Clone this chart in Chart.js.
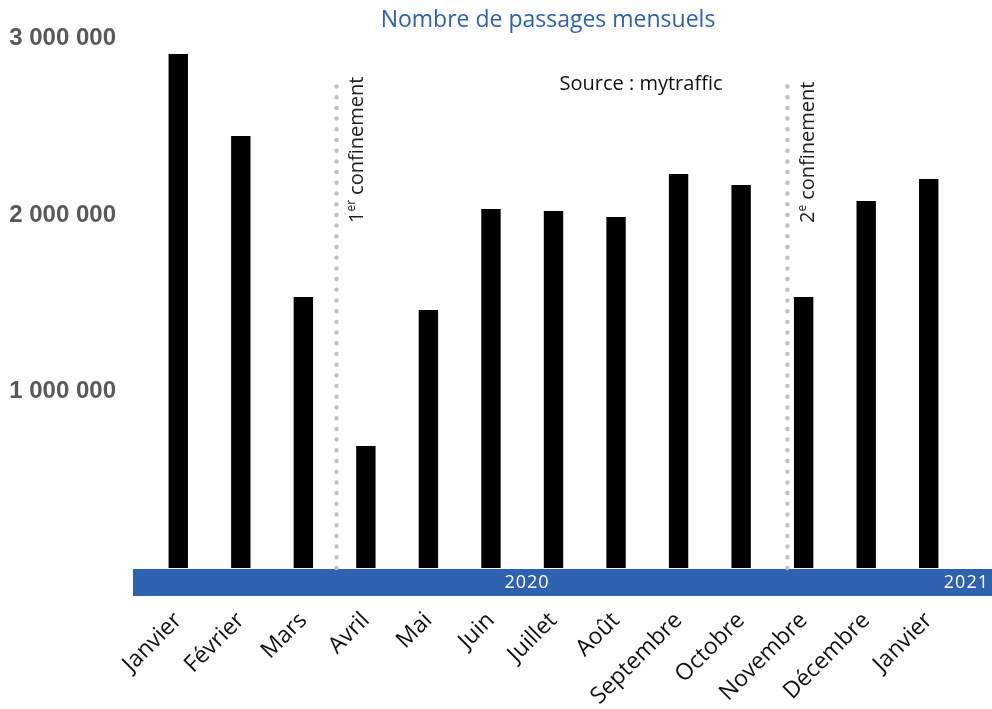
<!DOCTYPE html>
<html>
<head>
<meta charset="utf-8">
<script src="https://cdn.jsdelivr.net/npm/chart.js@4"></script>
<style>
  html, body { margin: 0; padding: 0; background: #fff; }
  #wrap { width: 992px; height: 709px; position: relative; }
</style>
</head>
<body>
<div id="wrap"><canvas id="passages"></canvas></div>
<script>
const mois = ['Janvier', 'Février', 'Mars', 'Avril', 'Mai', 'Juin', 'Juillet', 'Août',
  'Septembre', 'Octobre', 'Novembre', 'Décembre', 'Janvier'];
const passages = [2912000, 2448000, 1535000, 691000, 1462000, 2034000, 2023000,
  1989000, 2232000, 2170000, 1535000, 2079000, 2204000];
const yTicks = [1000000, 2000000, 3000000];
const annees = ['2020', '2021'];

const BLEU = '#2e62b0';

// bande bleue des années, pointillés des confinements, titre et source
const decor = {
  id: 'decor',
  afterDraw(chart) {
    const { ctx, chartArea, scales } = chart;
    const x = scales.x;
    ctx.save();

    // titre
    ctx.fillStyle = BLEU;
    ctx.font = '23px "Open Sans"';
    ctx.textAlign = 'center';
    ctx.textBaseline = 'middle';
    ctx.fillText('Nombre de passages mensuels', 548, 20);

    // source
    ctx.fillStyle = '#111';
    ctx.font = '20px "Open Sans"';
    ctx.fillText('Source : mytraffic', 641, 84);

    // bande des années
    const top = chartArea.bottom + 1;
    ctx.fillStyle = BLEU;
    ctx.fillRect(133, top, 992 - 133, 27);
    ctx.fillStyle = '#fff';
    ctx.font = '18px "Open Sans"';
    ctx.letterSpacing = '1px';
    ctx.textAlign = 'center';
    ctx.fillText(annees[0], 527, top + 14);
    ctx.textAlign = 'right';
    ctx.fillText(annees[1], 989, top + 14);
    ctx.letterSpacing = '0px';

    // confinements
    const confs = [{ pos: 2.53, n: '1', sup: 'er' }, { pos: 9.74, n: '2', sup: 'e' }];
    confs.forEach(c => {
      const px = x.getPixelForValue(c.pos);
      ctx.strokeStyle = '#c4c0c4';
      ctx.lineWidth = 4.5;
      ctx.lineCap = 'round';
      ctx.setLineDash([0, 10.7]);
      ctx.beginPath();
      ctx.moveTo(px, chartArea.bottom);
      ctx.lineTo(px, 76);
      ctx.stroke();
      ctx.setLineDash([]);

      ctx.save();
      ctx.translate(px + 27, 223);
      ctx.rotate(-Math.PI / 2);
      ctx.fillStyle = '#222';
      ctx.textAlign = 'left';
      ctx.textBaseline = 'alphabetic';
      ctx.font = '20px "Open Sans"';
      let w = ctx.measureText(c.n).width;
      ctx.fillText(c.n, 0, 0);
      ctx.font = '12px "Open Sans"';
      ctx.fillText(c.sup, w, -8);
      w += ctx.measureText(c.sup).width + 5;
      ctx.font = '20px "Open Sans"';
      ctx.fillText('confinement', w, 0);
      ctx.restore();
    });

    ctx.restore();
  }
};

new Chart(document.getElementById('passages'), {
  type: 'bar',
  data: {
    labels: mois,
    datasets: [{ data: passages, backgroundColor: '#000', borderWidth: 0,
      categoryPercentage: 1, barPercentage: 0.31 }]
  },
  options: {
    responsive: true,
    maintainAspectRatio: false,
    animation: false,
    layout: { padding: { top: 38.5, right: 32, left: 0, bottom: 0 } },
    plugins: { legend: { display: false }, tooltip: { enabled: false } },
    scales: {
      x: {
        grid: { display: false, drawTicks: false },
        border: { display: false },
        afterFit: s => { s.height = 141; },
        ticks: {
          color: '#111', font: { family: 'Open Sans', size: 23 },
          maxRotation: 45, minRotation: 45, padding: 39, autoSkip: false
        }
      },
      y: {
        min: 0, max: 3000000,
        grid: { display: false, drawTicks: false },
        border: { display: false },
        // largeur fixe, et pas de marge haute ajoutée par le padding des ticks
        afterFit: s => { s.width = 147; s.paddingTop = 14; s.paddingBottom = 14; },
        afterBuildTicks: s => { s.ticks = yTicks.map(v => ({ value: v })); },
        ticks: {
          color: '#575a5a', padding: 31,
          font: { family: 'Liberation Sans', size: 24, weight: 'bold' },
          callback: v => String(v).replace(/\B(?=(\d{3})+(?!\d))/g, ' ')
        }
      }
    }
  },
  plugins: [decor]
});
</script>
</body>
</html>
